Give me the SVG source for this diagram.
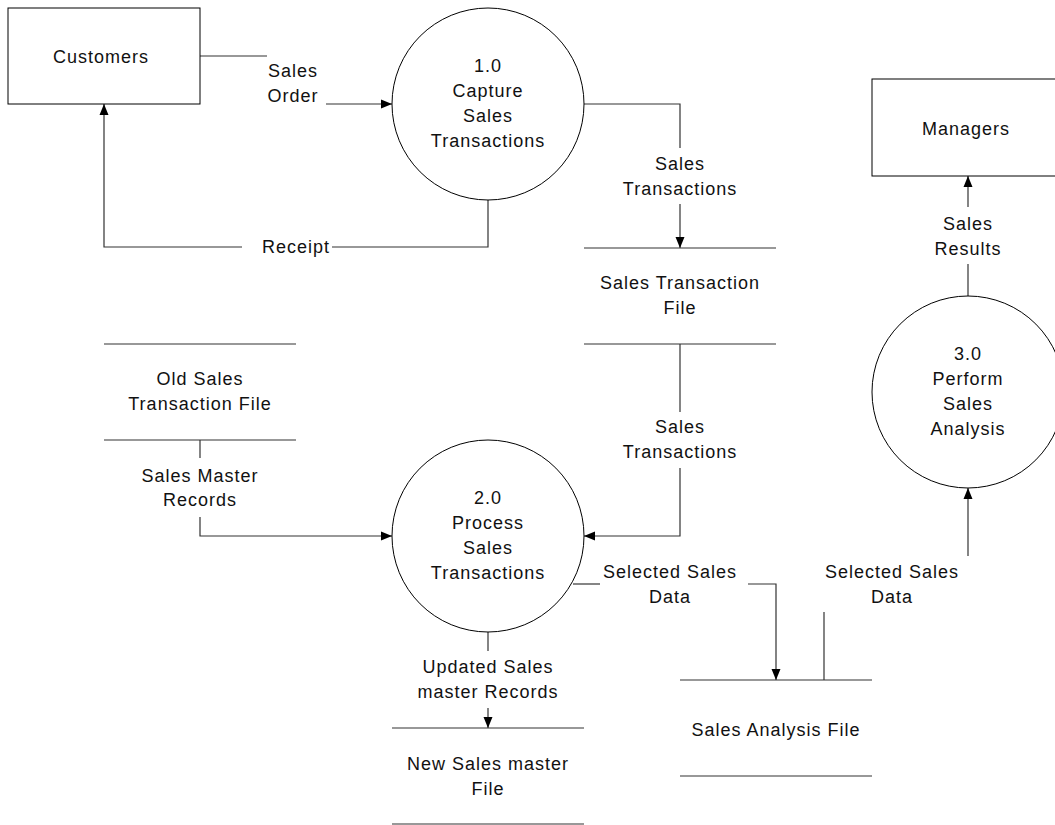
<svg xmlns="http://www.w3.org/2000/svg" width="1055" height="825" viewBox="0 0 1055 825">
  <defs>
    <marker id="arrow" markerUnits="userSpaceOnUse" markerWidth="12" markerHeight="10" refX="11" refY="5" orient="auto">
      <path d="M0,0.5 L11,5 L0,9.5 Z" fill="#000"/>
    </marker>
    <style>
      .shape { fill: #fff; stroke: #000; stroke-width: 1; }
      .store { stroke: #333; stroke-width: 1.2; fill: none; }
      .flow { stroke: #333; stroke-width: 1.2; fill: none; }
      .arr { marker-end: url(#arrow); }
      text { font-family: "Liberation Sans", Arial, Helvetica, sans-serif; font-size: 18px; letter-spacing: 1px; fill: #111; text-anchor: middle; }
    </style>
  </defs>
  <rect width="1055" height="825" fill="#fff"/>

  <!-- connectors -->
  <g id="connectors">
    <!-- Sales Order -->
    <polyline class="flow" points="200,56 267,56"/>
    <polyline class="flow arr" points="326,104 392,104"/>
    <text x="293" y="77">Sales</text>
    <text x="293" y="102">Order</text>
    <!-- Receipt -->
    <polyline class="flow" points="488,200 488,247 332,247"/>
    <polyline class="flow arr" points="242,247 104,247 104,104"/>
    <text x="296" y="253">Receipt</text>
    <!-- Sales Transactions into store -->
    <polyline class="flow" points="584,104 680,104 680,148"/>
    <polyline class="flow arr" points="680,204 680,248"/>
    <text x="680" y="170">Sales</text>
    <text x="680" y="195">Transactions</text>
    <!-- Sales Transactions out of store -->
    <polyline class="flow" points="680,344 680,412"/>
    <polyline class="flow arr" points="680,468 680,536 584,536"/>
    <text x="680" y="433">Sales</text>
    <text x="680" y="458">Transactions</text>
    <!-- Sales Master Records -->
    <polyline class="flow" points="200,440 200,458"/>
    <polyline class="flow arr" points="200,517 200,536 392,536"/>
    <text x="200" y="482">Sales Master</text>
    <text x="200" y="506">Records</text>
    <!-- Updated Sales master Records -->
    <polyline class="flow" points="488,632 488,651"/>
    <polyline class="flow arr" points="488,708 488,728"/>
    <text x="488" y="673">Updated Sales</text>
    <text x="488" y="698">master Records</text>
    <!-- Selected Sales Data into analysis file -->
    <polyline class="flow" points="573,584 600,584"/>
    <polyline class="flow arr" points="748,584 776,584 776,680"/>
    <text x="670" y="578">Selected Sales</text>
    <text x="670" y="603">Data</text>
    <!-- Selected Sales Data to analysis -->
    <polyline class="flow" points="824,680 824,612"/>
    <polyline class="flow arr" points="968,556 968,488"/>
    <text x="892" y="578">Selected Sales</text>
    <text x="892" y="603">Data</text>
    <!-- Sales Results -->
    <polyline class="flow" points="968,296 968,264"/>
    <polyline class="flow arr" points="968,207 968,176"/>
    <text x="968" y="230">Sales</text>
    <text x="968" y="255">Results</text>
  </g>

  <!-- external entities -->
  <g id="customers">
    <rect class="shape" x="8" y="8" width="192" height="96"/>
    <text x="101" y="63">Customers</text>
  </g>
  <g id="managers">
    <rect class="shape" x="872" y="79" width="192" height="97"/>
    <text x="966" y="135">Managers</text>
  </g>

  <!-- processes -->
  <g id="process-1">
    <circle class="shape" cx="488" cy="104" r="96"/>
    <text x="488" y="72">1.0</text>
    <text x="488" y="97">Capture</text>
    <text x="488" y="122">Sales</text>
    <text x="488" y="147">Transactions</text>
  </g>
  <g id="process-2">
    <circle class="shape" cx="488" cy="536" r="96"/>
    <text x="488" y="504">2.0</text>
    <text x="488" y="529">Process</text>
    <text x="488" y="554">Sales</text>
    <text x="488" y="579">Transactions</text>
  </g>
  <g id="process-3">
    <circle class="shape" cx="968" cy="392" r="96"/>
    <text x="968" y="360">3.0</text>
    <text x="968" y="385">Perform</text>
    <text x="968" y="410">Sales</text>
    <text x="968" y="435">Analysis</text>
  </g>

  <!-- data stores -->
  <g id="store-sales-transaction">
    <line class="store" x1="584" y1="248" x2="776" y2="248"/>
    <line class="store" x1="584" y1="344" x2="776" y2="344"/>
    <text x="680" y="289">Sales Transaction</text>
    <text x="680" y="314">File</text>
  </g>
  <g id="store-old-sales">
    <line class="store" x1="104" y1="344" x2="296" y2="344"/>
    <line class="store" x1="104" y1="440" x2="296" y2="440"/>
    <text x="200" y="385">Old Sales</text>
    <text x="200" y="410">Transaction File</text>
  </g>
  <g id="store-new-sales">
    <line class="store" x1="392" y1="728" x2="584" y2="728"/>
    <line class="store" x1="392" y1="824" x2="584" y2="824"/>
    <text x="488" y="770">New Sales master</text>
    <text x="488" y="795">File</text>
  </g>
  <g id="store-analysis">
    <line class="store" x1="680" y1="680" x2="872" y2="680"/>
    <line class="store" x1="680" y1="776" x2="872" y2="776"/>
    <text x="776" y="736">Sales Analysis File</text>
  </g>
</svg>
